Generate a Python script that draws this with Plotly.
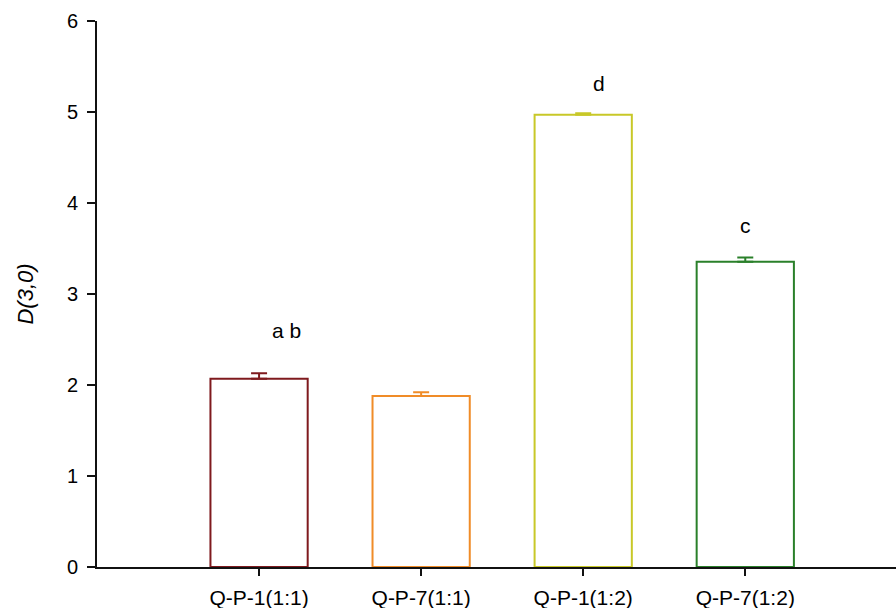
import plotly.graph_objects as go

# Samples and measured D(3,0) values
categories = ["Q-P-1(1:1)", "Q-P-7(1:1)", "Q-P-1(1:2)", "Q-P-7(1:2)"]
d30_mean = [2.07, 1.88, 4.97, 3.355]
d30_err = [0.06, 0.04, 0.015, 0.045]
bar_colors = ["#7F1A1E", "#F08C28", "#C8C828", "#2A802A"]

# Significance letters (text, x offset in category units, y in data units)
sig_letters = ["a b", "", "d", "c"]
sig_dx = [0.17, 0.0, 0.097, 0.0]
sig_y = [2.51, 0.0, 5.22, 3.66]

FONT = "Liberation Sans, Arial, sans-serif"

fig = go.Figure()

# hollow bars, outlined in each sample's colour
fig.add_trace(go.Bar(
    x=list(range(len(categories))),
    y=d30_mean,
    width=0.6,
    marker=dict(color="rgba(255,255,255,0)",
                line=dict(color=bar_colors, width=2)),
    showlegend=False,
    hoverinfo="skip",
))

# upper error bars, one per bar in the bar colour
for i, (m, e, c) in enumerate(zip(d30_mean, d30_err, bar_colors)):
    fig.add_trace(go.Scatter(
        x=[i], y=[m], mode="markers",
        marker=dict(size=0.1, color="rgba(0,0,0,0)"),
        error_y=dict(type="data", array=[e], arrayminus=[0], symmetric=False,
                     thickness=2, width=8, color=c),
        showlegend=False, hoverinfo="skip",
    ))

for i, (txt, dx, yy) in enumerate(zip(sig_letters, sig_dx, sig_y)):
    if not txt:
        continue
    fig.add_annotation(x=i + dx, y=yy, text=txt, showarrow=False,
                       xanchor="center", yanchor="bottom", yshift=-5,
                       font=dict(family=FONT, size=21, color="#000000"))

fig.update_layout(
    width=896, height=608,
    margin=dict(l=97, r=0, t=21, b=41, pad=0),
    paper_bgcolor="white", plot_bgcolor="white",
    font=dict(family=FONT, color="#000000"),
    xaxis=dict(
        range=[-1.0, 3.93],
        tickmode="array",
        tickvals=list(range(len(categories))),
        ticktext=categories,
        tickfont=dict(size=21, family=FONT),
        ticks="outside", ticklen=7, tickwidth=2, tickcolor="#111111",
        showline=True, linewidth=2, linecolor="#111111",
        showgrid=False, zeroline=False,
        ticklabelstandoff=4,
    ),
    yaxis=dict(
        range=[0, 6],
        tickvals=[0, 1, 2, 3, 4, 5, 6],
        tickfont=dict(size=20, family=FONT),
        ticks="outside", ticklen=8, tickwidth=2, tickcolor="#111111",
        showline=True, linewidth=2, linecolor="#111111",
        showgrid=False, zeroline=False,
        ticklabelstandoff=5,
        title=dict(text="<i>D(3,0)</i>", font=dict(size=22, family=FONT),
                   standoff=27),
    ),
)

fig.write_html("out.html")
